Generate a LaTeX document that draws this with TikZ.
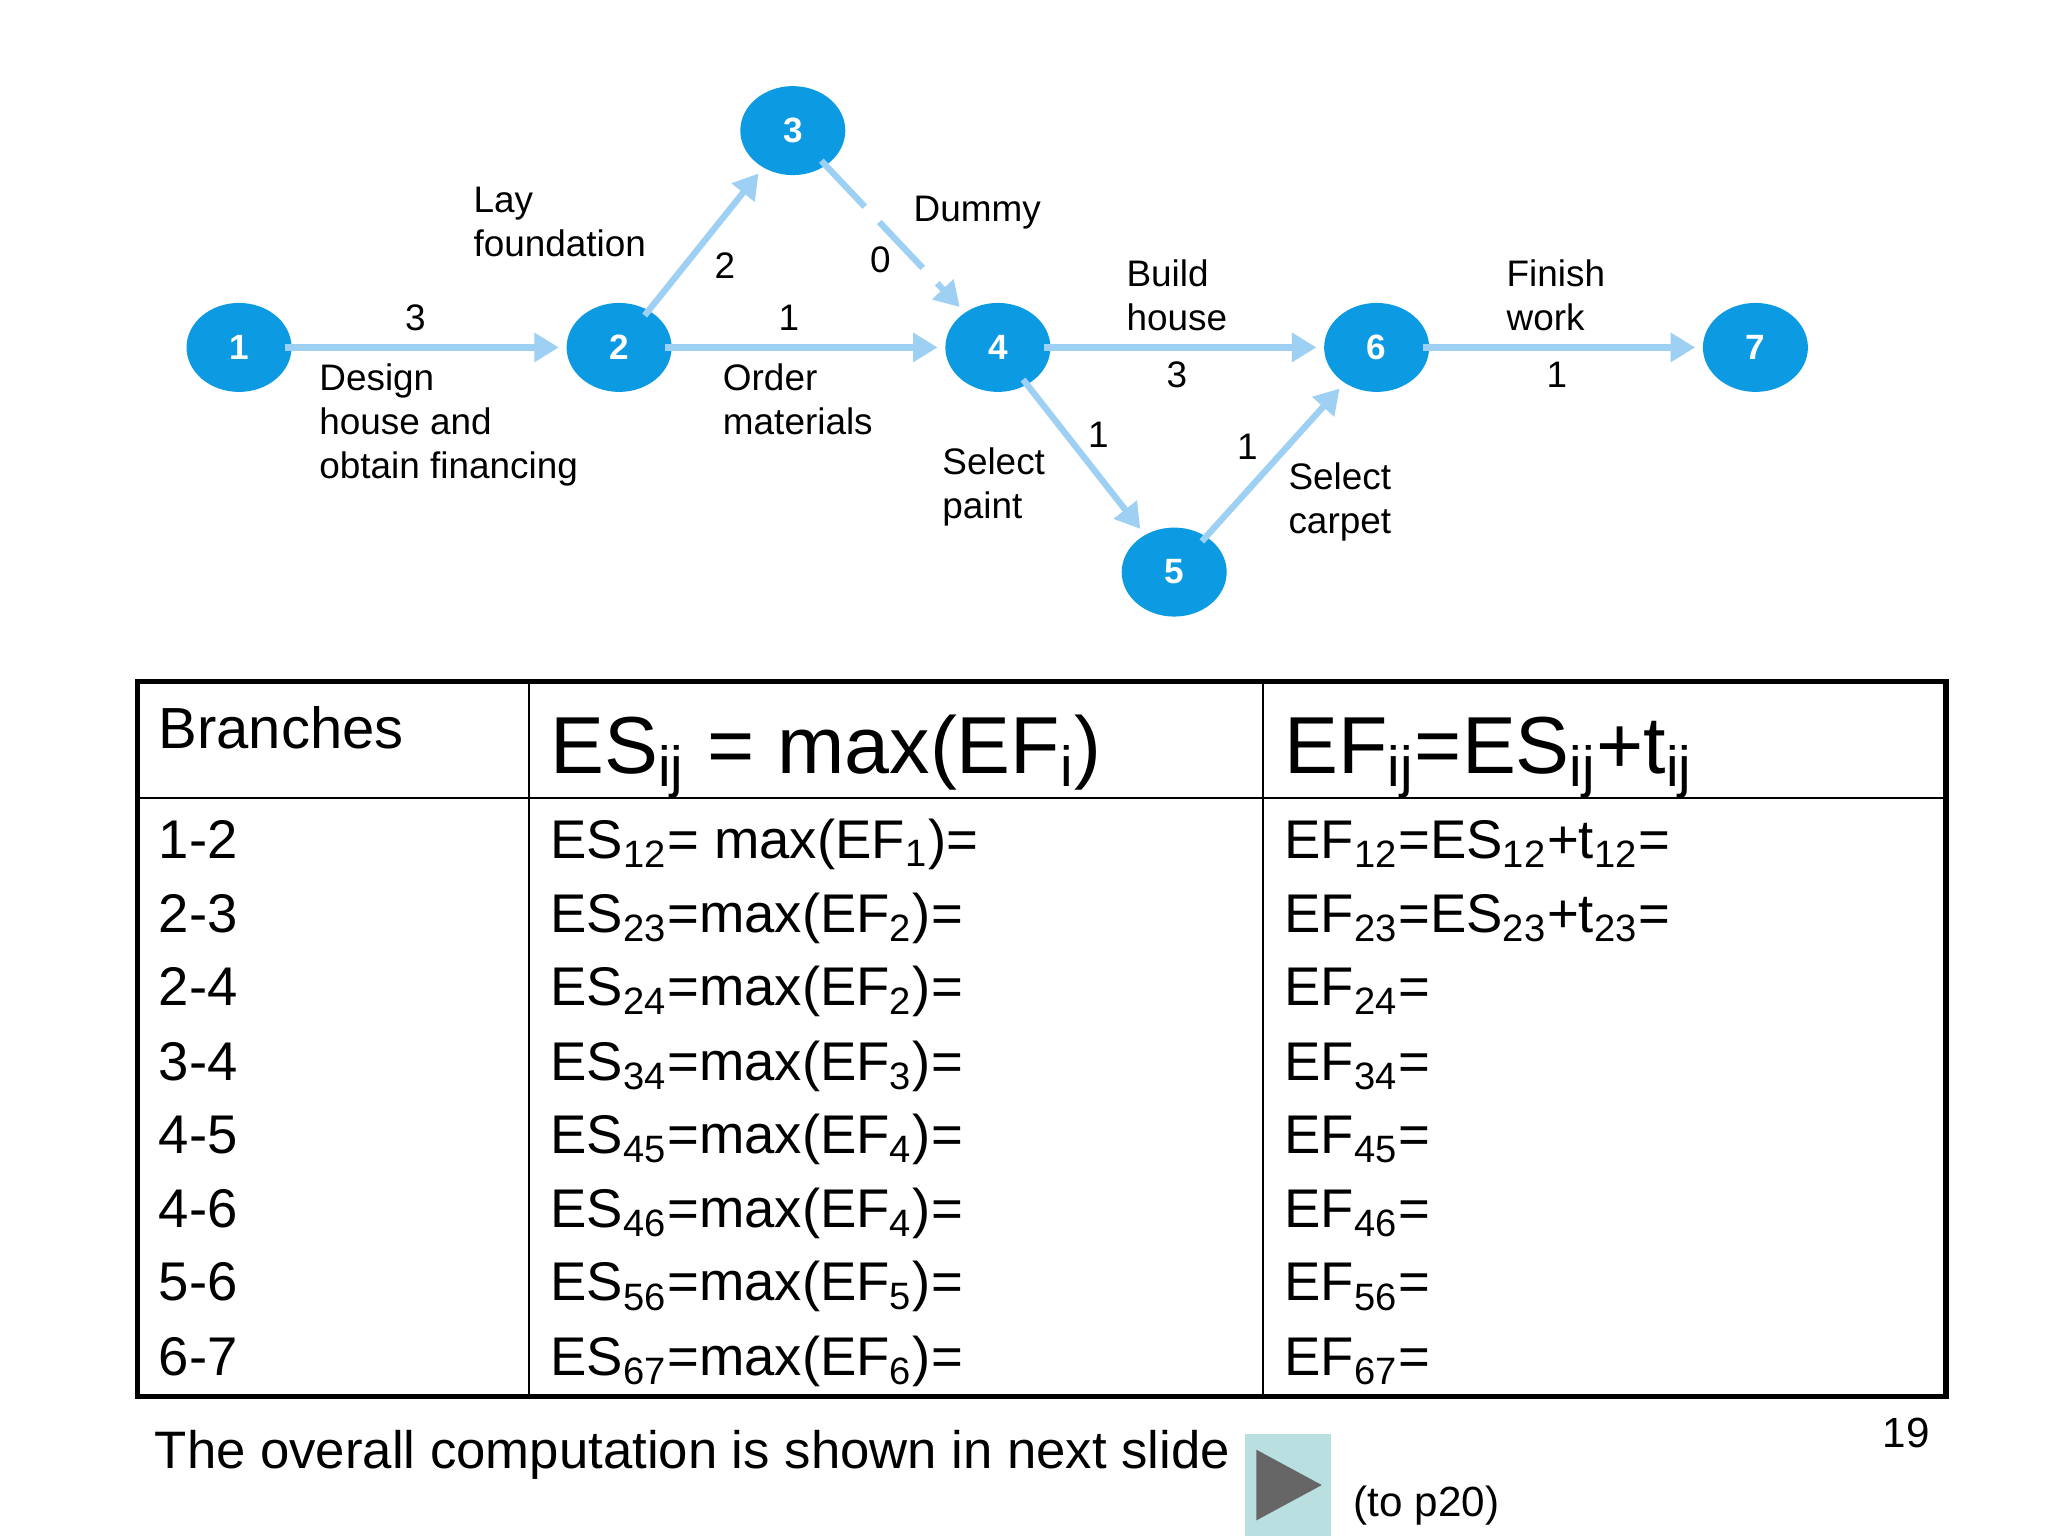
\documentclass[tikz,border=0pt]{standalone}
\usepackage{fontspec}
\setmainfont{Liberation Sans}
\usetikzlibrary{shapes.geometric,arrows.meta}
\definecolor{nodeblue}{HTML}{0C9BE2}
\definecolor{arrblue}{HTML}{9DD0F2}
\definecolor{btn}{HTML}{B9DFE0}
\newcommand{\sbs}[1]{\textsubscript{#1}}
\begin{document}
\begin{tikzpicture}[x=0.01306cm,y=-0.01306cm,
  ev/.style={ellipse,fill=nodeblue,minimum width=80\pgflinewidth,text=white,font=\bfseries\fontsize{10}{12}\selectfont,inner sep=0pt},
  evn/.style={ev,minimum width=1.05cm,minimum height=0.89cm},
  ar/.style={draw=arrblue,line width=1.8pt,-{Triangle[length=7pt,width=8pt]},shorten >=2pt,shorten <=-2pt},
  lb/.style={font=\fontsize{10.5}{12.5}\selectfont,align=left,inner sep=0pt},
  td/.style={anchor=base west,font=\fontsize{15.5}{18}\selectfont,inner sep=0pt}]
\useasboundingbox (0,0) rectangle (1568,1176);
\node[evn] (n1) at (183,266) {1};
\node[evn] (n2) at (474,266) {2};
\node[evn] (n3) at (607,100) {3};
\node[evn] (n4) at (764,266) {4};
\node[evn] (n5) at (899,438) {5};
\node[evn] (n6) at (1054,266) {6};
\node[evn] (n7) at (1344,266) {7};
\draw[ar] (n1) -- (n2);
\draw[ar] (n2) -- (n3);
\draw[ar] (n2) -- (n4);
\draw[ar,dash pattern=on 18pt off 6pt] (n3) -- (n4);
\draw[ar] (n4) -- (n6);
\draw[ar] (n4) -- (n5);
\draw[ar] (n5) -- (n6);
\draw[ar] (n6) -- (n7);
\node[lb] (l13) at (318,243) {3};
\node[lb,anchor=north west] (l1) at (244,278) {Design\\house and\\obtain financing};
\node[lb,anchor=south west] (l2) at (362,197) {Lay\\foundation};
\node[lb] (l2n) at (555,203) {2};
\node[lb] (l24n) at (604,243) {1};
\node[lb,anchor=north west] (l24) at (553,278) {Order\\materials};
\node[lb] (l34n) at (674,199) {0};
\node[lb,anchor=west] (l34) at (699,163) {Dummy};
\node[lb,anchor=south west] (l46) at (862,254) {Build\\house};
\node[lb] (l46n) at (901,287) {3};
\node[lb] (l45n) at (841,333) {1};
\node[lb,anchor=north west] (l45) at (721,342) {Select\\paint};
\node[lb] (l56n) at (955,342) {1};
\node[lb,anchor=north west] (l56) at (986,354) {Select\\carpet};
\node[lb,anchor=south west] (l67) at (1153,254) {Finish\\work};
\node[lb] (l67n) at (1192,287) {1};
% table
\draw[line width=1.5pt] (105,522) rectangle (1490,1069);
\draw[line width=0.8pt] (405,522) -- (405,1069) (967,522) -- (967,1069) (105,611) -- (1490,611);
\node[td,font=\fontsize{16.5}{18}\selectfont] (h1) at (121,573) {Branches};
\node[td,font=\fontsize{23}{26}\selectfont] (h2) at (421,592) {ES\sbs{ij} = max(EF\sbs{i})};
\node[td,font=\fontsize{23}{26}\selectfont] (h3) at (983,592) {EF\sbs{ij}=ES\sbs{ij}+t\sbs{ij}};
\foreach \y/\b/\es/\ef [count=\i] in {
 657/1-2/{ES\sbs{12}= max(EF\sbs{1})=}/{EF\sbs{12}=ES\sbs{12}+t\sbs{12}=},
 714/2-3/{ES\sbs{23}=max(EF\sbs{2})=}/{EF\sbs{23}=ES\sbs{23}+t\sbs{23}=},
 770/2-4/{ES\sbs{24}=max(EF\sbs{2})=}/{EF\sbs{24}=},
 827/3-4/{ES\sbs{34}=max(EF\sbs{3})=}/{EF\sbs{34}=},
 883/4-5/{ES\sbs{45}=max(EF\sbs{4})=}/{EF\sbs{45}=},
 940/4-6/{ES\sbs{46}=max(EF\sbs{4})=}/{EF\sbs{46}=},
 996/5-6/{ES\sbs{56}=max(EF\sbs{5})=}/{EF\sbs{56}=},
 1053/6-7/{ES\sbs{67}=max(EF\sbs{6})=}/{EF\sbs{67}=}}{
 \node[td] (b\i) at (121,\y) {\b};
 \node[td] (e\i) at (421,\y) {\es};
 \node[td] (f\i) at (983,\y) {\ef};
}
\node[td,font=\fontsize{15}{18}\selectfont] (foot) at (118,1124) {The overall computation is shown in next slide};
\fill[btn] (953,1098) rectangle (1019,1176);
\fill[gray!80!black] (962,1110) -- (1012,1137) -- (962,1164) -- cycle;
\node[td,font=\fontsize{12}{14}\selectfont] (to) at (1036,1161) {(to p20)};
\node[td,font=\fontsize{12}{14}\selectfont] (pg) at (1441,1108) {19};
\end{tikzpicture}
\end{document}
